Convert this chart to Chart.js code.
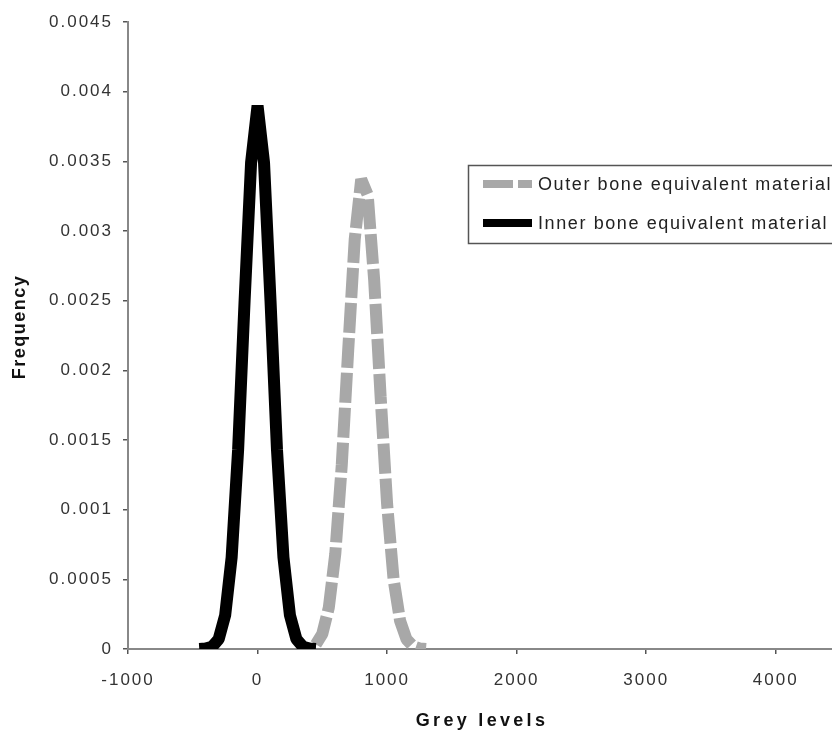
<!DOCTYPE html>
<html>
<head>
<meta charset="utf-8">
<script src="https://cdn.jsdelivr.net/npm/chart.js@4.4.0/dist/chart.umd.min.js"></script>
<style>
  html, body { margin: 0; padding: 0; background: #fff; }
  #wrap { width: 832px; height: 733px; }
</style>
</head>
<body>
<div id="wrap"><canvas id="myChart" width="832" height="733"></canvas></div>
<script>
// grey level bins and frequencies
const innerLevels = [-450, -400, -350, -300, -250, -200, -150, -100, -50, 0, 50, 100, 150, 200, 250, 300, 350, 400, 450];
const innerFreq = [0, 0.000003, 0.000017, 0.000071, 0.000242, 0.000658, 0.00143, 0.0025, 0.00349, 0.0039, 0.00349, 0.0025, 0.00143, 0.000658, 0.000242, 0.000071, 0.000017, 0.000003, 0];

const outerLevels = [450, 500, 550, 600, 650, 700, 750, 800, 850, 900, 950, 1000, 1050, 1100, 1150, 1200, 1250, 1300];
const outerFreq = [0.000033, 0.000109, 0.000297, 0.000683, 0.00132, 0.00215, 0.00294, 0.00337, 0.00326, 0.00265, 0.00181, 0.00104, 0.0005, 0.000203, 0.000069, 0.00002, 0.000004, 0];

const xTicks = [-1000, 0, 1000, 2000, 3000, 4000];
const yTicks = [0, 0.0005, 0.001, 0.0015, 0.002, 0.0025, 0.003, 0.0035, 0.004, 0.0045];

const seriesNames = ["Outer bone equivalent material", "Inner bone equivalent material"];
const greyColor = "rgb(168,168,168)";
const blackColor = "#000";

function pairs(xs, ys) {
  return xs.map((x, i) => ({x: x, y: ys[i]}));
}

const fontFam = "'Liberation Sans', Arial, sans-serif";

// the canvas resize wipes the context state, so set the spacing again each pass
const spacing = {
  id: "spacing",
  beforeUpdate(chart) { chart.ctx.letterSpacing = "2px"; },
  beforeDraw(chart) { chart.ctx.letterSpacing = "2px"; }
};

const extras = {
  id: "extras",
  afterDraw(chart) {
    const ctx = chart.ctx;
    ctx.save();
    // axis titles
    ctx.fillStyle = "#111";
    ctx.font = "bold 18px " + fontFam;
    ctx.letterSpacing = "3.3px";
    ctx.textAlign = "center";
    ctx.textBaseline = "middle";
    ctx.fillText("Grey levels", 482, 721);
    ctx.translate(20, 327);
    ctx.rotate(-Math.PI / 2);
    ctx.letterSpacing = "1.5px";
    ctx.fillText("Frequency", 0, 0);
    ctx.restore();

    // legend box
    ctx.save();
    ctx.strokeStyle = "#555";
    ctx.lineWidth = 1.5;
    ctx.strokeRect(468.5, 165.5, 500, 78);
    ctx.lineCap = "butt";
    ctx.lineWidth = 8;
    ctx.strokeStyle = greyColor;
    ctx.setLineDash([30, 5]);
    ctx.beginPath(); ctx.moveTo(483, 184); ctx.lineTo(532, 184); ctx.stroke();
    ctx.setLineDash([]);
    ctx.strokeStyle = blackColor;
    ctx.beginPath(); ctx.moveTo(483, 223); ctx.lineTo(532, 223); ctx.stroke();
    ctx.fillStyle = "#222";
    ctx.font = "18px " + fontFam;
    ctx.letterSpacing = "1.6px";
    ctx.textAlign = "left";
    ctx.textBaseline = "middle";
    ctx.fillText(seriesNames[0], 538, 185);
    ctx.fillText(seriesNames[1], 538, 224);
    ctx.restore();
  }
};

new Chart("myChart", {
  type: "line",
  data: {
    datasets: [{
      label: seriesNames[0],
      data: pairs(outerLevels, outerFreq),
      borderColor: greyColor,
      borderWidth: 12,
      borderDash: [30, 5],
      borderJoinStyle: "bevel",
      pointRadius: 0,
      fill: false,
      order: 1
    }, {
      label: seriesNames[1],
      data: pairs(innerLevels, innerFreq),
      borderColor: blackColor,
      borderWidth: 12,
      borderJoinStyle: "bevel",
      pointRadius: 0,
      fill: false,
      order: 0
    }]
  },
  options: {
    responsive: false,
    animation: false,
    layout: {padding: {top: 22, right: 0, left: 0, bottom: 0}},
    plugins: {
      legend: {display: false},
      tooltip: {enabled: false}
    },
    scales: {
      x: {
        type: "linear",
        min: -1000,
        max: 4434,
        afterFit(scale) { scale.height = 84; },
        afterBuildTicks(scale) { scale.ticks = xTicks.map(v => ({value: v})); },
        ticks: {
          color: "#333",
          padding: 16,
          font: {family: fontFam, size: 17},
          maxRotation: 0,
          autoSkip: false,
          callback: v => String(v)
        },
        grid: {drawOnChartArea: false, drawTicks: true, tickLength: 5, color: "#555", lineWidth: 1.5},
        border: {color: "#888", width: 2}
      },
      y: {
        min: 0,
        max: 0.0045,
        afterFit(scale) { scale.width = 128; },
        afterBuildTicks(scale) { scale.ticks = yTicks.map(v => ({value: v})); },
        ticks: {
          color: "#333",
          padding: 10,
          font: {family: fontFam, size: 17},
          autoSkip: false,
          callback: v => String(+v.toFixed(4))
        },
        grid: {drawOnChartArea: false, drawTicks: true, tickLength: 5, color: "#555", lineWidth: 1.5},
        border: {color: "#888", width: 2}
      }
    }
  },
  plugins: [spacing, extras]
});
</script>
</body>
</html>
